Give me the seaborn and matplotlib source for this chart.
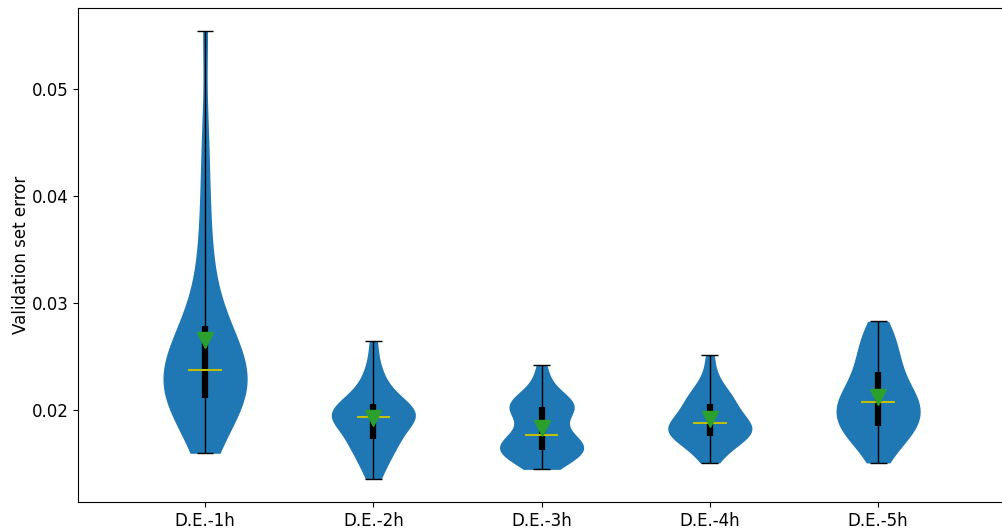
import numpy as np
import pandas as pd
import matplotlib
matplotlib.use("Agg")
import matplotlib.pyplot as plt
import seaborn as sns

# kategorie
labels = ['D.E.-1h', 'D.E.-2h', 'D.E.-3h', 'D.E.-4h', 'D.E.-5h']

# bledy na zbiorze walidacyjnym
err_1h = [0.0160, 0.0184, 0.0194, 0.0200, 0.0204, 0.0207, 0.0209, 0.0211, 0.0215, 0.0220,
          0.0224, 0.0228, 0.0232, 0.0235, 0.0237, 0.0239, 0.0243, 0.0248, 0.0254, 0.0260,
          0.0268, 0.0275, 0.0280, 0.0295, 0.0315, 0.0340, 0.0370, 0.0410, 0.0460, 0.0554]
err_2h = [0.0136, 0.0145, 0.0152, 0.0158, 0.0163, 0.0167, 0.0170, 0.0172, 0.0176, 0.0180,
          0.0184, 0.0187, 0.0190, 0.0192, 0.0193, 0.0194, 0.0196, 0.0198, 0.0199, 0.0200,
          0.0202, 0.0204, 0.0207, 0.0210, 0.0214, 0.0219, 0.0225, 0.0233, 0.0245, 0.0265]
err_3h = [0.0145, 0.0150, 0.0153, 0.0156, 0.0158, 0.0160, 0.0162, 0.0163, 0.0164, 0.0166,
          0.0168, 0.0170, 0.0172, 0.0174, 0.0176, 0.0179, 0.0184, 0.0191, 0.0196, 0.0199,
          0.0201, 0.0202, 0.0204, 0.0206, 0.0208, 0.0210, 0.0213, 0.0218, 0.0228, 0.0242]
err_4h = [0.0151, 0.0158, 0.0163, 0.0167, 0.0170, 0.0172, 0.0174, 0.0176, 0.0178, 0.0179,
          0.0181, 0.0182, 0.0184, 0.0185, 0.0187, 0.0189, 0.0191, 0.0193, 0.0195, 0.0198,
          0.0201, 0.0204, 0.0207, 0.0210, 0.0213, 0.0216, 0.0220, 0.0226, 0.0236, 0.0252]
err_5h = [0.0151, 0.0160, 0.0167, 0.0173, 0.0178, 0.0181, 0.0183, 0.0184, 0.0188, 0.0192,
          0.0195, 0.0198, 0.0201, 0.0204, 0.0206, 0.0209, 0.0212, 0.0215, 0.0218, 0.0222,
          0.0227, 0.0232, 0.0237, 0.0242, 0.0248, 0.0254, 0.0260, 0.0267, 0.0275, 0.0283]

groups = [err_1h, err_2h, err_3h, err_4h, err_5h]

df = pd.DataFrame({
    'model': np.repeat(labels, [len(g) for g in groups]),
    'error': np.concatenate(groups),
})

fig = plt.figure(figsize=(10.03, 5.32), dpi=100)
# prawa krawedz osi poza obrazkiem (jak w oryginale)
ax = fig.add_axes([0.0778, 0.0564, 0.9292, 0.9286])

sns.violinplot(data=df, x='model', y='error', order=labels, cut=0, inner=None,
               density_norm='width', width=0.5, bw_adjust=0.85, color='#1f77b4',
               saturation=1, linewidth=0, ax=ax)

# statystyki: min/max, kwartyle, mediana, srednia
for i, g in enumerate(groups):
    g = np.array(g)
    q1, med, q3 = np.percentile(g, [25, 50, 75])
    ax.vlines(i, g.min(), g.max(), color='black', lw=1, zorder=3)
    ax.hlines([g.min(), g.max()], i - 0.05, i + 0.05, color='black', lw=1, zorder=3)
    ax.vlines(i, q1, q3, color='black', lw=4.5, zorder=4)
    ax.hlines(med, i - 0.1, i + 0.1, color='#bfbf00', lw=1.5, zorder=5)
    ax.plot(i, g.mean(), marker='v', color='#2ca02c', markersize=11, ls='none', zorder=6)

ax.set_xlim(-0.755, 4.784)
ax.set_ylim(0.01146, 0.05751)
ax.set_yticks([0.02, 0.03, 0.04, 0.05])
ax.set_xlabel('')
ax.set_ylabel('Validation set error', fontsize=12, labelpad=1)
ax.tick_params(labelsize=12)

plt.savefig('out.png', dpi=100)
